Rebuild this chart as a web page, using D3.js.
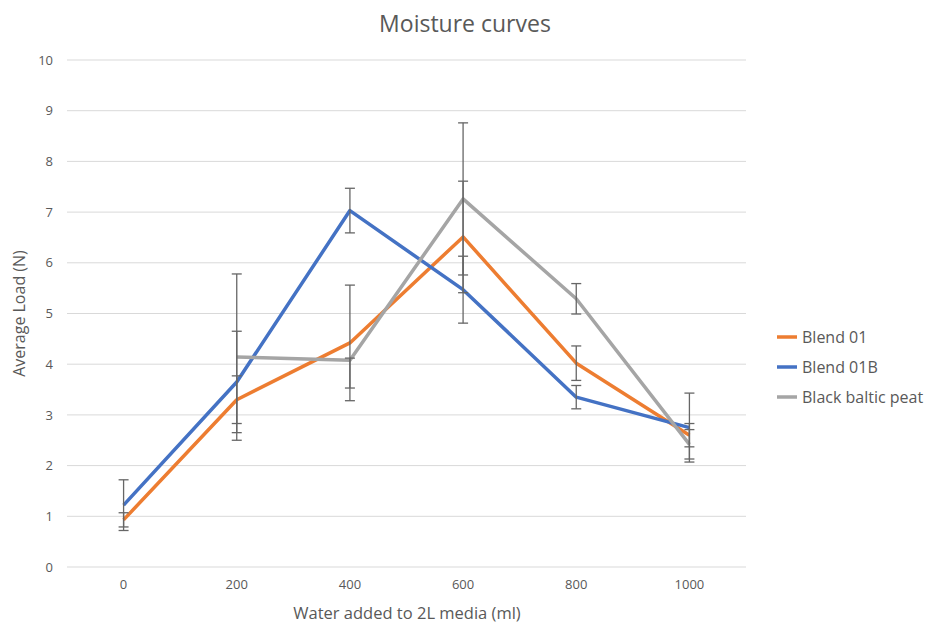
<!DOCTYPE html>
<html>
<head>
<meta charset="utf-8">
<script src="https://cdn.jsdelivr.net/npm/d3@7"></script>
<style>
  html, body { margin: 0; padding: 0; background: #fff; }
  svg { display: block; font-family: "Open Sans", "Noto Sans", sans-serif; }
</style>
</head>
<body>
<svg id="chart" width="931" height="626"></svg>
<script>
// Water added (ml) per step
const categories = ["0", "200", "400", "600", "800", "1000"];
const yTicks = [0, 1, 2, 3, 4, 5, 6, 7, 8, 9, 10];

// Average load (N) per blend, with plus / minus error amounts
const seriesNames = ["Blend 01", "Blend 01B", "Black baltic peat"];
const blend01 = [0.93, 3.30, 4.42, 6.51, 4.02, 2.60];
const blend01ErrPlus = [0.14, 0.47, 1.14, 1.10, 0.34, 0.23];
const blend01ErrMinus = [0.14, 0.47, 1.14, 1.10, 0.34, 0.23];
const blend01B = [1.22, 3.65, 7.03, 5.47, 3.35, 2.75];
const blend01BErrPlus = [0.50, 1.00, 0.44, 0.66, 0.23, 0.68];
const blend01BErrMinus = [0.50, 1.00, 0.44, 0.66, 0.23, 0.68];
const peat = [null, 4.14, 4.08, 7.26, 5.29, 2.42];
const peatErrPlus = [null, 1.64, 0.04, 1.50, 0.30, 0.29];
const peatErrMinus = [null, 1.64, 0.55, 1.50, 0.30, 0.29];
const colors = ["#ED7D31", "#4472C4", "#A5A5A5"];

const series = [
  { name: seriesNames[0], values: blend01, plus: blend01ErrPlus, minus: blend01ErrMinus, color: colors[0] },
  { name: seriesNames[1], values: blend01B, plus: blend01BErrPlus, minus: blend01BErrMinus, color: colors[1] },
  { name: seriesNames[2], values: peat, plus: peatErrPlus, minus: peatErrMinus, color: colors[2] }
];

const svg = d3.select("#chart");
const plot = { left: 67, right: 746, top: 60, bottom: 567 };

const x = d3.scaleBand().domain(categories).range([plot.left, plot.right]);
const y = d3.scaleLinear().domain([0, 10]).range([plot.bottom, plot.top]);
const cx = c => x(c) + x.bandwidth() / 2;

// Title
svg.append("text")
  .attr("x", 465).attr("y", 32)
  .attr("text-anchor", "middle")
  .attr("font-size", 23).attr("fill", "#595959")
  .text("Moisture curves");

// Horizontal gridlines
svg.append("g").selectAll("line").data(yTicks).join("line")
  .attr("x1", plot.left).attr("x2", plot.right)
  .attr("y1", d => y(d)).attr("y2", d => y(d))
  .attr("stroke", "#D9D9D9").attr("stroke-width", 1);

// Y axis labels
const yAxis = d3.axisLeft(y).tickValues(yTicks).tickSize(0).tickPadding(0);
svg.append("g")
  .attr("transform", `translate(${plot.left - 14},0)`)
  .call(yAxis)
  .call(g => g.select(".domain").remove())
  .call(g => g.selectAll("text")
    .attr("font-size", 13).attr("fill", "#595959")
    .attr("font-family", "Open Sans, sans-serif"));

// X axis labels
const xAxis = d3.axisBottom(x).tickSize(0).tickPadding(0);
svg.append("g")
  .attr("transform", `translate(0,${plot.bottom + 13})`)
  .call(xAxis)
  .call(g => g.select(".domain").remove())
  .call(g => g.selectAll("text")
    .attr("font-size", 13).attr("fill", "#595959")
    .attr("font-family", "Open Sans, sans-serif"));

// Axis titles
svg.append("text")
  .attr("x", 407).attr("y", 619)
  .attr("text-anchor", "middle")
  .attr("font-size", 16.5).attr("fill", "#595959")
  .text("Water added to 2L media (ml)");

svg.append("text")
  .attr("transform", `translate(25,${(plot.top + plot.bottom) / 2}) rotate(-90)`)
  .attr("text-anchor", "middle")
  .attr("font-size", 16).attr("fill", "#595959")
  .text("Average Load (N)");

// Series lines
const line = d3.line()
  .defined(d => d.v != null)
  .x(d => cx(d.c))
  .y(d => y(d.v));

series.forEach(s => {
  const pts = categories.map((c, i) => ({ c, v: s.values[i] }));
  svg.append("path")
    .datum(pts)
    .attr("d", line)
    .attr("fill", "none")
    .attr("stroke", s.color)
    .attr("stroke-width", 3.5)
    .attr("stroke-linejoin", "round");
});

// Error bars
const eb = svg.append("g").attr("stroke", "#666").attr("stroke-width", 1.3);
series.forEach(s => {
  categories.forEach((c, i) => {
    const v = s.values[i];
    if (v == null || s.plus[i] == null) return;
    const lo = v - s.minus[i], hi = v + s.plus[i];
    const xc = cx(c);
    eb.append("line").attr("x1", xc).attr("x2", xc)
      .attr("y1", y(lo)).attr("y2", y(hi));
    [lo, hi].forEach(t => {
      eb.append("line").attr("x1", xc - 5).attr("x2", xc + 5)
        .attr("y1", y(t)).attr("y2", y(t));
    });
  });
});

// Legend
const legend = svg.append("g");
series.forEach((s, i) => {
  const ly = 337 + i * 30;
  legend.append("line")
    .attr("x1", 777).attr("x2", 797)
    .attr("y1", ly).attr("y2", ly)
    .attr("stroke", s.color).attr("stroke-width", 3.5);
  legend.append("text")
    .attr("x", 802).attr("y", ly + 5.5)
    .attr("font-size", 16).attr("fill", "#595959")
    .text(s.name);
});
</script>
</body>
</html>
